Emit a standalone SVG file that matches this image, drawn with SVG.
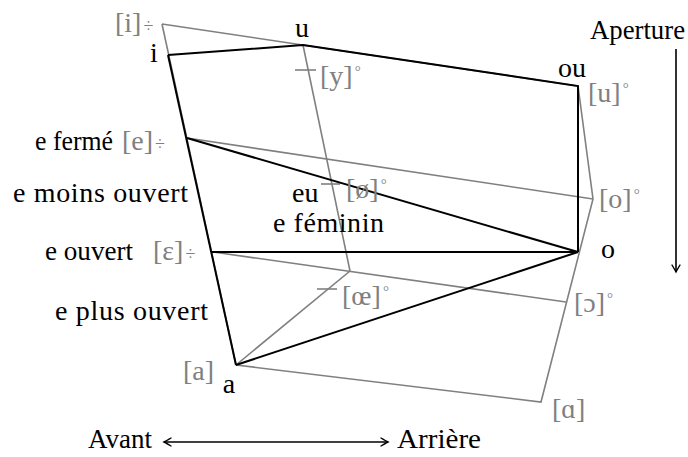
<svg xmlns="http://www.w3.org/2000/svg" width="688" height="457" viewBox="0 0 688 457">
<style>
text{font-family:"Liberation Serif","DejaVu Serif",serif;font-size:28px;fill:#000}
.g{fill:#808080}
.sm{font-size:18px}
.deg{font-size:15px}
.gl{fill:none;stroke:#808080;stroke-width:1.6;stroke-linejoin:miter}
.bl{fill:none;stroke:#000;stroke-width:2;stroke-linejoin:miter}
.ax{fill:none;stroke:#000;stroke-width:1.6}
</style>
<defs>
<marker id="tip" viewBox="-8 -5 10 10" refX="0" refY="0" markerWidth="10" markerHeight="10" markerUnits="userSpaceOnUse" orient="auto-start-reverse">
<path d="M-7,-4 Q-2,-1 0,0 Q-2,1 -7,4" fill="none" stroke="#000" stroke-width="1.4" stroke-linecap="round"/>
</marker>
</defs>
<g id="connectors">
<g id="ipa-grid">
<line class="gl" x1="162" y1="24" x2="578" y2="86"/>
<line class="gl" x1="162" y1="24" x2="236" y2="365"/>
<polyline class="gl" points="578,86 593,199 541,402 236,365"/>
<line class="gl" x1="187" y1="138" x2="593" y2="199"/>
<line class="gl" x1="213" y1="252" x2="566" y2="302"/>
<polyline class="gl" points="303,45 350,271 236,365"/>
<line class="gl" x1="295" y1="70" x2="316" y2="70"/>
<line class="gl" x1="321" y1="184" x2="340" y2="184"/>
<line class="gl" x1="317" y1="289" x2="337" y2="289"/>
</g>
<g id="old-grid">
<polyline class="bl" points="168,55 303,45 578,86 578,252"/>
<line class="bl" x1="168" y1="55" x2="236" y2="365"/>
<line class="bl" x1="187" y1="138" x2="578" y2="252"/>
<line class="bl" x1="212" y1="252" x2="578" y2="252"/>
<line class="bl" x1="236" y1="365" x2="578" y2="252"/>
</g>
<g id="axes">
<line class="ax" x1="676" y1="49" x2="676" y2="272" marker-end="url(#tip)"/>
<line class="ax" x1="164" y1="442" x2="388" y2="442" marker-start="url(#tip)" marker-end="url(#tip)"/>
</g>
</g>
<g id="node-i"><text x="154" y="62" text-anchor="middle">i</text><text class="g" x="115" y="32">[i]<tspan class="sm" dx="2">÷</tspan></text></g>
<g id="node-u"><text x="302" y="37" text-anchor="middle">u</text></g>
<g id="node-y"><text class="g" x="320" y="85">[y]<tspan class="deg" dx="2" dy="-9">°</tspan></text></g>
<g id="node-ou"><text x="572" y="77" text-anchor="middle">ou</text><text class="g" x="588" y="102">[u]<tspan class="deg" dx="2" dy="-9">°</tspan></text></g>
<g id="node-aperture"><text x="590" y="39" textLength="95" lengthAdjust="spacingAndGlyphs">Aperture</text></g>
<g id="node-efermé"><text x="35" y="150" textLength="78" lengthAdjust="spacingAndGlyphs">e fermé</text><text class="g" x="122" y="150">[e]<tspan class="sm" dx="2">÷</tspan></text></g>
<g id="node-emoins"><text x="13" y="202" textLength="175">e moins ouvert</text></g>
<g id="node-eu"><text x="292" y="202">eu</text><text class="g" x="346" y="198">[ø]<tspan class="deg" dx="2" dy="-9">°</tspan></text></g>
<g id="node-efeminin"><text x="273" y="232" textLength="111">e féminin</text></g>
<g id="node-o-close"><text class="g" x="599" y="208">[o]<tspan class="deg" dx="2" dy="-9">°</tspan></text></g>
<g id="node-eouvert"><text x="45" y="260" textLength="88" lengthAdjust="spacingAndGlyphs">e ouvert</text><text class="g" x="153" y="260">[ɛ]<tspan class="sm" dx="2">÷</tspan></text></g>
<g id="node-o"><text x="608" y="258" text-anchor="middle">o</text></g>
<g id="node-oe"><text class="g" x="342" y="305">[œ]<tspan class="deg" dx="2" dy="-9">°</tspan></text></g>
<g id="node-open-o"><text class="g" x="574" y="312">[ɔ]<tspan class="deg" dx="2" dy="-9">°</tspan></text></g>
<g id="node-eplus"><text x="55" y="320" textLength="153">e plus ouvert</text></g>
<g id="node-a"><text class="g" x="183" y="380">[a]</text><text x="229" y="393" text-anchor="middle">a</text></g>
<g id="node-alpha"><text class="g" x="552" y="418">[ɑ]</text></g>
<g id="node-avant"><text x="88" y="448" textLength="64" lengthAdjust="spacingAndGlyphs">Avant</text></g>
<g id="node-arriere"><text x="397" y="448" textLength="84" lengthAdjust="spacingAndGlyphs">Arrière</text></g>
</svg>
